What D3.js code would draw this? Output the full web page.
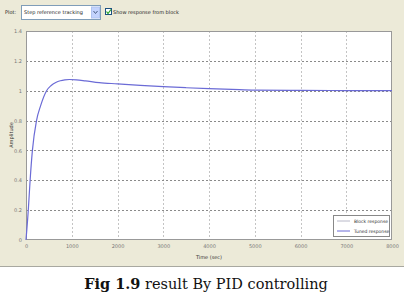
<!DOCTYPE html>
<html>
<head>
<meta charset="utf-8">
<script src="https://cdn.jsdelivr.net/npm/d3@7"></script>
<style>
  body { margin: 0; background: #fff; }
  svg { display: block; font-family: "DejaVu Sans", sans-serif; }
</style>
</head>
<body>
<div id="chart"></div>
<script>
// step response
const times = [0, 50, 90, 140, 230, 320, 450, 550, 650, 750, 850, 950, 1100, 1300, 1600, 2000, 2500, 3000, 3500, 4000, 4500, 5000, 6000, 7000, 8000]
const tuned = [0, 0.2, 0.4, 0.6, 0.8, 0.9, 1.0, 1.035, 1.055, 1.067, 1.073, 1.075, 1.073, 1.066, 1.054, 1.046, 1.036, 1.027, 1.02, 1.014, 1.009, 1.004, 1.002, 1.001, 1.0]
const xTicks = [0, 1000, 2000, 3000, 4000, 5000, 6000, 7000, 8000]
const yTicks = [0, 0.2, 0.4, 0.6, 0.8, 1, 1.2, 1.4]
const legendItems = [{label: "Block response", color: "#b8b8c8"}, {label: "Tuned response", color: "#6b6bd6"}]

const W = 404, H = 294
const margin = {top: 31, left: 26}

const svg = d3.select("#chart").append("svg")
    .attr("width", W)
    .attr("height", H)

// window background
svg.append("rect").attr("x", 0).attr("y", 0).attr("width", W).attr("height", 266).attr("fill", "#ecead8")
svg.append("line").attr("x1", 0).attr("x2", W).attr("y1", 266.5).attr("y2", 266.5).attr("stroke", "#a8a8a0")

// toolbar
const tb = svg.append("g").attr("font-size", "5px").attr("fill", "#222")
tb.append("text").attr("x", 5).attr("y", 14).text("Plot:")
tb.append("rect").attr("x", 21.5).attr("y", 5.5).attr("width", 79).attr("height", 14)
    .attr("fill", "#fff").attr("stroke", "#7f9db9")
tb.append("text").attr("x", 24).attr("y", 14).text("Step reference tracking")
tb.append("rect").attr("x", 91.5).attr("y", 7).attr("width", 8).attr("height", 11)
    .attr("fill", "#c3d3fd").attr("stroke", "#b0c4f0")
tb.append("path").attr("d", "M93.5,11 L95.5,13.5 L97.5,11").attr("fill", "none").attr("stroke", "#4d6185").attr("stroke-width", 1)
tb.append("rect").attr("x", 105.5).attr("y", 8.5).attr("width", 6).attr("height", 6)
    .attr("fill", "#fff").attr("stroke", "#1c5180")
tb.append("path").attr("d", "M106.5,11.5 L108,13.5 L111,9.5").attr("fill", "none").attr("stroke", "#21a121").attr("stroke-width", 1.2)
tb.append("text").attr("x", 113).attr("y", 14).text("Show response from block")

const g = svg.append("g").attr("transform", `translate(${margin.left},${margin.top})`)

const x = d3.scaleLinear().domain([0, 8000]).range([0, 366])
const y = d3.scaleLinear().domain([0, 1.4]).range([209, 0])

g.append("rect").attr("width", 366).attr("height", 209).attr("fill", "#fff")

// grid
g.selectAll("line.vg").data(xTicks.slice(1, -1)).enter().append("line")
    .attr("x1", d => Math.round(x(d)) + 0.5).attr("x2", d => Math.round(x(d)) + 0.5)
    .attr("y1", 0).attr("y2", 209)
    .attr("stroke", "#c4c4c4").attr("stroke-dasharray", "2,2")
g.selectAll("line.hg").data(yTicks.slice(1, -1)).enter().append("line")
    .attr("x1", 0).attr("x2", 366)
    .attr("y1", d => Math.round(y(d)) + 0.5).attr("y2", d => Math.round(y(d)) + 0.5)
    .attr("stroke", "#8a8a8a").attr("stroke-dasharray", "2,2")

// axes
const xAxis = g.append("g").attr("transform", "translate(0,209)")
    .call(d3.axisBottom(x).tickValues(xTicks).tickSize(0).tickPadding(4).tickFormat(d3.format("d")))
const yAxis = g.append("g")
    .call(d3.axisLeft(y).tickValues(yTicks).tickSize(0).tickPadding(4).tickFormat(d => d))
for (const ax of [xAxis, yAxis]) {
    ax.select(".domain").remove()
    ax.selectAll("text").attr("font-size", "5px").attr("fill", "#777").attr("font-family", "DejaVu Sans")
}

g.append("rect").attr("x", 0.5).attr("y", 0.5).attr("width", 365).attr("height", 208)
    .attr("fill", "none").attr("stroke", "#999")

// curve
const line = d3.line().x((d, i) => x(times[i])).y(d => y(d)).curve(d3.curveMonotoneX)
g.append("path").datum(tuned).attr("d", line)
    .attr("fill", "none").attr("stroke", "#6b6bd6").attr("stroke-width", 1.2)

// labels
svg.append("text").attr("x", 209).attr("y", 259).attr("text-anchor", "middle")
    .attr("font-size", "5px").attr("fill", "#333").text("Time (sec)")
svg.append("text").attr("transform", "translate(13,135) rotate(-90)").attr("text-anchor", "middle")
    .attr("font-size", "5px").attr("fill", "#333").text("Amplitude")

// legend
const lg = svg.append("g").attr("transform", "translate(333,215)")
lg.append("rect").attr("x", 0.5).attr("y", 0.5).attr("width", 56).attr("height", 21)
    .attr("fill", "#fff").attr("stroke", "#888")
legendItems.forEach((d, i) => {
    lg.append("line").attr("x1", 4).attr("x2", 17).attr("y1", 6 + i * 10).attr("y2", 6 + i * 10)
        .attr("stroke", d.color).attr("stroke-width", 1)
    lg.append("text").attr("x", 21).attr("y", 8 + i * 10).attr("font-size", "4.5px").attr("fill", "#333").text(d.label)
})

// caption
const cap = svg.append("text").attr("x", 206).attr("y", 289).attr("text-anchor", "middle")
    .attr("font-family", "DejaVu Serif").attr("font-size", "14.5px").attr("fill", "#111")
cap.append("tspan").attr("font-weight", "bold").text("Fig 1.9")
cap.append("tspan").text("  result By PID controlling")
</script>
</body>
</html>
